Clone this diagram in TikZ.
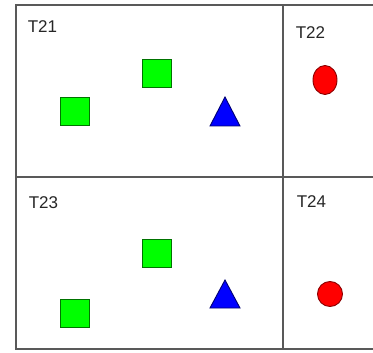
\documentclass[tikz,border=0pt]{standalone}
\usepackage{fontspec}
\setmainfont{Liberation Sans}
\usetikzlibrary{shapes.geometric}
\begin{document}
\begin{tikzpicture}[x=1pt,y=-1pt,
  gridline/.style={draw=black!65,line width=1.6pt},
  lbl/.style={text=black!85,font=\fontsize{17}{19}\selectfont,inner sep=0pt},
  sq/.style={draw=green!45!black,fill=green,line width=0.9pt,minimum width=29pt,minimum height=28pt,inner sep=0pt},
  blob/.style={ellipse,draw=red!55!black,fill=red,line width=0.9pt,inner sep=0pt},
  tri/.style={draw=blue!45!black,fill=blue,line width=0.9pt,line join=miter}]
\useasboundingbox (0,0) rectangle (373,353);
\fill[white] (0,0) rectangle (373,353);
% grid
\draw[gridline] (380,5) -- (16,5) -- (16,349) -- (380,349);
\draw[gridline] (16,177) -- (380,177);
\draw[gridline] (283,5) -- (283,349);
% labels
\node[lbl] (t21) at (42.5,27) {T21};
\node[lbl] (t22) at (310.5,32.5) {T22};
\node[lbl] (t23) at (43.5,202.5) {T23};
\node[lbl] (t24) at (311.5,202) {T24};
% T21 shapes
\node[sq] (s1) at (75,111) {};
\node[sq] (s2) at (157,73.5) {};
\draw[tri] (210,126) -- (225,97) -- (240,126) -- cycle;
% T22
\node[blob,minimum width=24pt,minimum height=29pt] (c1) at (325,80) {};
% T23 shapes
\node[sq] (s3) at (157,253.5) {};
\node[sq] (s4) at (75,313.5) {};
\draw[tri] (210,308) -- (225,280) -- (240,308) -- cycle;
% T24
\node[blob,minimum width=25pt,minimum height=25pt] (c2) at (330,294) {};
\end{tikzpicture}
\end{document}
